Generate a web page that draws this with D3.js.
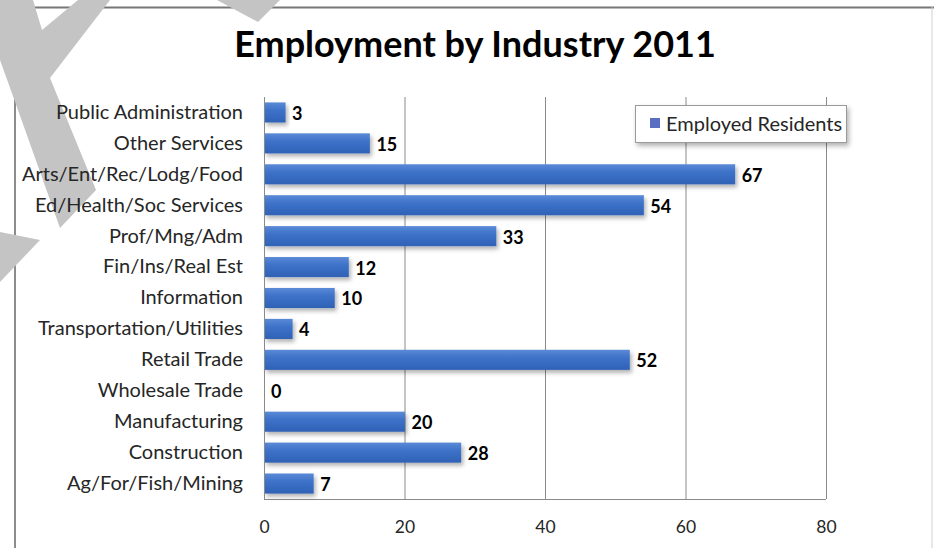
<!DOCTYPE html>
<html><head><meta charset="utf-8">
<script src="https://cdn.jsdelivr.net/npm/d3@7/dist/d3.min.js"></script>
<style>html,body{margin:0;padding:0;background:#fff;}svg{display:block;}</style>
</head><body>
<svg id="c" width="935" height="548"></svg>
<script>
const title = "Employment by Industry 2011";
const seriesName = "Employed Residents";
const categories = ["Public Administration","Other Services","Arts/Ent/Rec/Lodg/Food","Ed/Health/Soc Services","Prof/Mng/Adm","Fin/Ins/Real Est","Information","Transportation/Utilities","Retail Trade","Wholesale Trade","Manufacturing","Construction","Ag/For/Fish/Mining"];
const values = [3,15,67,54,33,12,10,4,52,0,20,28,7];
const xTicks = [0,20,40,60,80];

const svg = d3.select("#c");
const font = "Lato, 'Open Sans', sans-serif";
const defs = svg.append("defs");
const grad = defs.append("linearGradient").attr("id","bg").attr("x1",0).attr("y1",0).attr("x2",0).attr("y2",1);
grad.append("stop").attr("offset","0%").attr("stop-color","#5b8ad6");
grad.append("stop").attr("offset","40%").attr("stop-color","#3d72c9");
grad.append("stop").attr("offset","100%").attr("stop-color","#2f62b6");
const f = defs.append("filter").attr("id","sh").attr("x","-10%").attr("y","-30%").attr("width","130%").attr("height","180%");
f.append("feDropShadow").attr("dx",2).attr("dy",3).attr("stdDeviation",2).attr("flood-color","#000").attr("flood-opacity",0.3);
const f2 = defs.append("filter").attr("id","lsh").attr("x","-10%").attr("y","-30%").attr("width","130%").attr("height","180%");
f2.append("feDropShadow").attr("dx",2).attr("dy",3).attr("stdDeviation",2.5).attr("flood-color","#000").attr("flood-opacity",0.3);

// outer frame
svg.append("line").attr("x1",15).attr("x2",934).attr("y1",7.5).attr("y2",7.5).attr("stroke","#777").attr("stroke-width",2);
svg.append("line").attr("x1",15).attr("x2",15).attr("y1",7).attr("y2",548).attr("stroke","#666").attr("stroke-width",1.5);
svg.append("line").attr("x1",932).attr("x2",932).attr("y1",7).attr("y2",548).attr("stroke","#d0d0d0").attr("stroke-width",1);

// watermark fragments (behind the text)
const wm = svg.append("g").attr("fill","#c4c4c4");
wm.append("path").attr("d","M217,0L280,0L258,22Z");
wm.append("path").attr("d","M0,232L40,240L0,282Z");
wm.append("path").attr("d","M0,0L33,0L42,30L78,0L110,0L50,78L96,190L60,228L18,110L0,60Z");

const x = d3.scaleLinear().domain([0,80]).range([264,826]);
const y = d3.scaleBand().domain(categories).range([97,499]).paddingInner(0.35).paddingOuter(0.175);

// gridlines
const grid = svg.append("g").attr("transform","translate(0,499)")
  .call(d3.axisBottom(x).tickValues(xTicks).tickSize(-402).tickFormat(""));
grid.select(".domain").remove();
grid.selectAll(".tick line").attr("stroke","#8a8a8a").attr("stroke-width",1);

// bottom line of plot
svg.append("line").attr("x1",x(0)).attr("x2",x(80)).attr("y1",499.5).attr("y2",499.5).attr("stroke","#8a8a8a");

// bars
svg.append("g").selectAll("rect").data(values).join("rect")
  .attr("x",x(0)+0.5).attr("y",(d,i)=>y(categories[i]))
  .attr("width",d=>Math.max(0,x(d)-x(0)))
  .attr("height",y.bandwidth())
  .attr("fill","url(#bg)").attr("filter","url(#sh)");

// value labels
svg.append("g").selectAll("text").data(values).join("text")
  .attr("x",d=>x(d)+7).attr("y",(d,i)=>y(categories[i])+y.bandwidth()/2+1)
  .attr("dy","0.36em").attr("font-family",font).attr("font-weight","bold").attr("font-size",18).attr("fill","#000")
  .text(d=>d);

// left axis
const ya = svg.append("g").attr("transform","translate(264,0)")
  .call(d3.axisLeft(y).tickSize(0).tickPadding(21));
ya.select(".domain").attr("stroke","#8a8a8a").attr("stroke-width",1);
ya.selectAll(".tick text").attr("font-family",font).attr("font-size",20).attr("fill","#262626");

// bottom tick labels
const xa = svg.append("g").attr("transform","translate(0,499)")
  .call(d3.axisBottom(x).tickValues(xTicks).tickSize(0).tickPadding(22));
xa.select(".domain").remove();
xa.selectAll(".tick text").attr("font-family",font).attr("font-size",17.5).attr("fill","#262626");

// title
svg.append("text").attr("x",475).attr("y",57).attr("text-anchor","middle")
  .attr("font-family",font).attr("font-weight","bold").attr("font-size",36).attr("fill","#000").text(title);

// legend
const lg = svg.append("g");
lg.append("rect").attr("x",635.5).attr("y",105.5).attr("width",211).attr("height",37)
  .attr("fill","#fff").attr("stroke","#9a9a9a").attr("filter","url(#lsh)");
lg.append("rect").attr("x",650).attr("y",118).attr("width",10).attr("height",10).attr("fill","#5a6fc2");
lg.append("text").attr("x",666).attr("y",124).attr("dy","0.36em").attr("font-family",font).attr("font-size",20).attr("fill","#262626").text(seriesName);
</script>
</body></html>
